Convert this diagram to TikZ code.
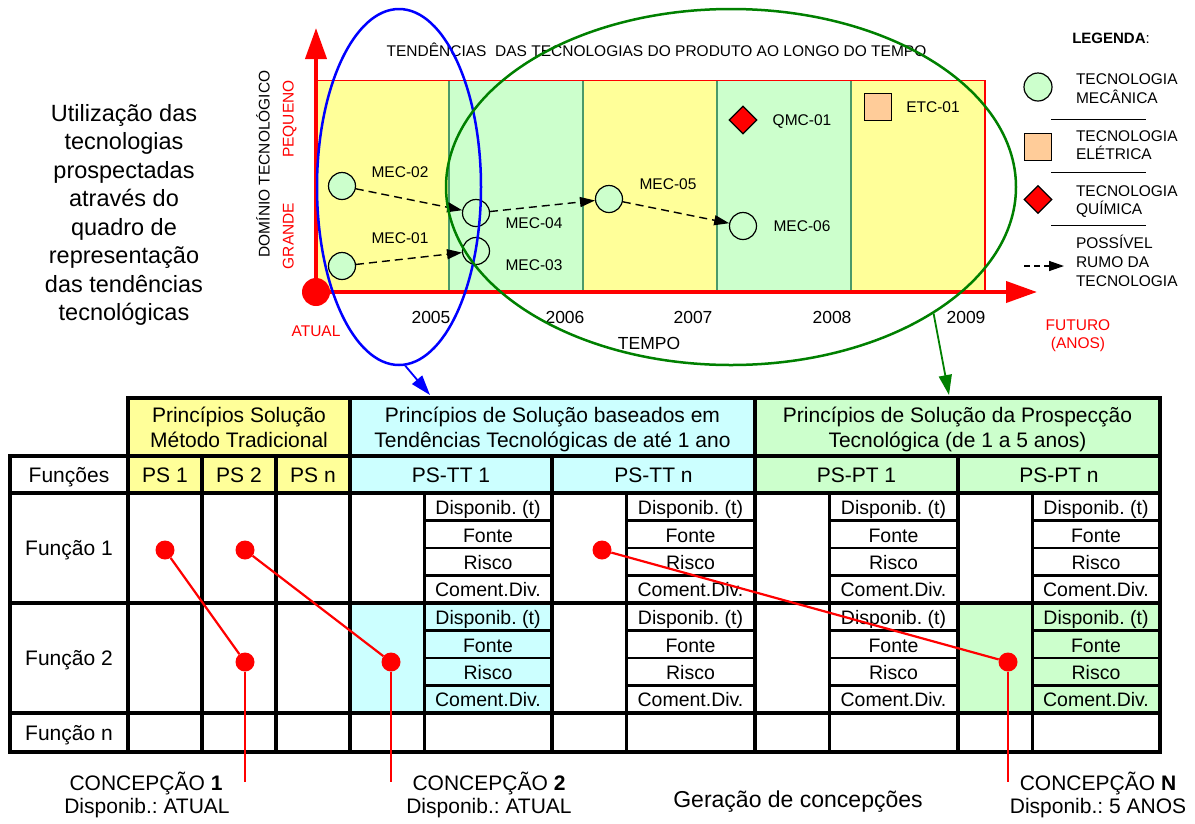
\documentclass[tikz,border=0pt]{standalone}
\usepackage{fontspec}
\setmainfont{Liberation Sans}
\usetikzlibrary{shapes.geometric, arrows.meta}
\frenchspacing

\definecolor{bandyellow}{HTML}{FFFF99}
\definecolor{bandgreen}{HTML}{CCFFCC}
\definecolor{bandcyan}{HTML}{CCFFFF}
\definecolor{elecorange}{HTML}{FFCC99}
\definecolor{divgreen}{HTML}{4A9A6A}
\definecolor{ellgreen}{HTML}{008000}

\begin{document}
\begin{tikzpicture}[x=1pt, y=-1pt,
  % text nodes are centred on the middle of the capitals
  txt/.style={inner sep=0, outer sep=0, text depth=0pt},
  small/.style={txt, font=\fontsize{15.5}{18}\selectfont, text height=11.1pt},
  yearlbl/.style={txt, font=\fontsize{17.5}{20}\selectfont, text height=12.5pt},
  redlbl/.style={small, text=red},
  cell/.style={txt, font=\fontsize{21}{24}\selectfont, text height=15pt},
  subcell/.style={txt, font=\fontsize{19.5}{22}\selectfont, text height=14pt},
  head/.style={txt, font=\fontsize{21}{24}\selectfont, text height=15pt},
  side/.style={txt, font=\fontsize{23.5}{28}\selectfont, text height=16.8pt},
  bottom/.style={txt, font=\fontsize{21}{24}\selectfont, text height=15pt},
  tech/.style={circle, draw, fill=bandgreen, minimum size=27, inner sep=0, line width=1.2},
  elec/.style={rectangle, draw, fill=elecorange, minimum size=27, inner sep=0, line width=1.5},
  chem/.style={diamond, draw, fill=red, minimum size=28, inner sep=0, line width=1.2},
  trend/.style={dash pattern=on 8pt off 5pt, line width=1.4, -{Triangle[length=15pt,width=10pt]}},
  axis/.style={red, line width=4, -{Triangle[length=31pt,width=21pt]}},
  dot/.style={circle, fill=red, minimum size=19, inner sep=0},
  redline/.style={red, line width=2.2},
  grid/.style={line width=3.5, line cap=rect},
  subgrid/.style={line width=2.5},
  sep/.style={line width=1.2}
]
\path[use as bounding box, fill=white] (0,0) rectangle (1195,823);

% ---------- side caption ----------
\foreach \t [count=\i] in {Utilização das, tecnologias, prospectadas, através do, quadro de, representação, das tendências, tecnológicas}
  \node[side] (side\i) at (124, 113+28.5*\i-28.5) {\t};

% ---------- trend chart: time bands ----------
\fill[bandyellow] (316,80.7) rectangle (449,292);
\fill[bandgreen]  (449,80.7) rectangle (583,292);
\fill[bandyellow] (583,80.7) rectangle (717,292);
\fill[bandgreen]  (717,80.7) rectangle (851,292);
\fill[bandyellow] (851,80.7) rectangle (985,292);
\foreach \x in {449,583,717,851}
  \draw[divgreen, line width=1.5] (\x,80.7) -- (\x,292);
\draw[red, line width=1.2] (316,80.7) rectangle (985,292);

% axes
\node[circle, fill=red, minimum size=28, inner sep=0] (origin) at (316,292) {};
\coordinate (ytip) at (316,28);
\coordinate (xtip) at (1037,292);
\draw[axis] (origin.center) -- (ytip);
\draw[axis] (origin.center) -- (xtip);

% axis texts
\node[small] (title) at (656.5,50.5) {TENDÊNCIAS\ \ DAS TECNOLOGIAS DO PRODUTO AO LONGO DO TEMPO};
\node[small, rotate=90] (dom) at (264,164) {DOMÍNIO TECNOLÓGICO};
\node[redlbl, rotate=90] (peq) at (288,119) {PEQUENO};
\node[redlbl, rotate=90] (gra) at (288,236) {GRANDE};
\node[redlbl] (atual) at (316,331) {ATUAL};
\node[yearlbl] (y05) at (431,317) {2005};
\node[yearlbl] (y06) at (565,317) {2006};
\node[yearlbl] (y07) at (693,317) {2007};
\node[yearlbl] (y08) at (832,317) {2008};
\node[yearlbl] (y09) at (966,317) {2009};
\node[yearlbl] (tempo) at (649,343) {TEMPO};
\node[redlbl] (fut1) at (1078,324.5) {FUTURO};
\node[redlbl] (fut2) at (1078,342.7) {(ANOS)};

% technologies
\node[tech] (m02) at (342,186) {};
\node[tech] (m01) at (342,266) {};
\node[tech] (m04) at (476,213) {};
\node[tech] (m03) at (476,251) {};
\node[tech] (m05) at (609,199) {};
\node[tech] (m06) at (743,226) {};
\node[chem] (q01) at (743,120) {};
\node[elec] (e01) at (878,107) {};

\node[small] (lm02) at (400,172) {MEC-02};
\node[small] (lm01) at (400,238) {MEC-01};
\node[small] (lm04) at (534,223) {MEC-04};
\node[small] (lm03) at (534,265) {MEC-03};
\node[small] (lm05) at (668,184) {MEC-05};
\node[small] (lm06) at (802,226) {MEC-06};
\node[small] (lq01) at (802,120) {QMC-01};
\node[small] (le01) at (933,107) {ETC-01};

\draw[trend] (m02) -- (m04);
\draw[trend] (m01) -- (m03);
\draw[trend] (m04) -- (m05);
\draw[trend] (m05) -- (m06);

% legend
\node[txt, font=\fontsize{15}{18}\selectfont, text height=10.7pt] (leg) at (1111,38.3) {\textbf{LEGENDA}:};
\node[tech, minimum size=28] (legc) at (1038,87) {};
\node[elec] (legs) at (1038,147) {};
\node[chem] (legd) at (1038,199.5) {};
\node[small, anchor=west] (lt1a) at (1076,79) {TECNOLOGIA};
\node[small, anchor=west] (lt1b) at (1076,97.7) {MECÂNICA};
\node[small, anchor=west] (lt2a) at (1076,135.7) {TECNOLOGIA};
\node[small, anchor=west] (lt2b) at (1076,154.3) {ELÉTRICA};
\node[small, anchor=west] (lt3a) at (1076,190.7) {TECNOLOGIA};
\node[small, anchor=west] (lt3b) at (1076,209.3) {QUÍMICA};
\node[small, anchor=west] (lt4a) at (1076,243.3) {POSSÍVEL};
\node[small, anchor=west] (lt4b) at (1076,262.3) {RUMO DA};
\node[small, anchor=west] (lt4c) at (1076,280.7) {TECNOLOGIA};
\foreach \y in {119.3,172.7,225.7}
  \draw[sep] (1051,\y) -- (1146,\y);
\coordinate (legA) at (1024,266);
\coordinate (legB) at (1064,266);
\draw[trend, dash pattern=on 6pt off 4pt] (legA) -- (legB);

% groupings of the time line
\node[draw=blue, line width=2.5, ellipse, minimum width=164, minimum height=356, inner sep=0] (blueEll) at (399,187) {};
\node[draw=ellgreen, line width=2.5, ellipse, minimum width=570, minimum height=356, inner sep=0] (greenEll) at (731,187) {};
\coordinate (blueTip) at (430,395);
\coordinate (greenTip) at (949,395);
\draw[blue, line width=1.8, -{Triangle[length=20pt,width=13pt]}] (blueEll.-88) -- (blueTip);
\draw[ellgreen, line width=1.8, -{Triangle[length=20pt,width=13pt]}] (greenEll.-32) -- (greenTip);

% ---------- morphological table ----------
\fill[bandyellow] (128,398) rectangle (350,493);
\fill[bandcyan]   (350,398) rectangle (755,493);
\fill[bandgreen]  (755,398) rectangle (1160,493);
\fill[bandcyan]   (350,603) rectangle (552,713);
\fill[bandgreen]  (958,603) rectangle (1160,713);

\foreach \xa/\xb in {424/552,626/755,829/958,1032/1160}
  \foreach \y in {520.5,548,575.5,630.5,658,685.5}
    \draw[subgrid] (\xa,\y) -- (\xb,\y);
\draw[grid] (128,398) -- (1160,398);
\foreach \y in {456,493,603,713,752}
  \draw[grid] (10,\y) -- (1160,\y);
\draw[grid] (10,456) -- (10,752);
\foreach \x in {128,350,755,1160}
  \draw[grid] (\x,398) -- (\x,752);
\foreach \x in {202,276,552,958}
  \draw[grid] (\x,456) -- (\x,752);
\foreach \x in {424,626,829,1032}
  \draw[grid, line width=3] (\x,493) -- (\x,752);

% header texts
\node[head] (h1a) at (239,415) {Princípios Solução};
\node[head] (h1b) at (239,440) {Método Tradicional};
\node[head] (h2a) at (552.5,415) {Princípios de Solução baseados em};
\node[head] (h2b) at (552.5,440) {Tendências Tecnológicas de até 1 ano};
\node[head] (h3a) at (957.5,415) {Princípios de Solução da Prospecção};
\node[head] (h3b) at (957.5,440) {Tecnológica (de 1 a 5 anos)};

\node[cell] (fun) at (69,474.5) {Funções};
\node[cell] (ps1) at (165,474.5) {PS 1};
\node[cell] (ps2) at (239,474.5) {PS 2};
\node[cell] (psn) at (313,474.5) {PS n};
\node[cell] (tt1) at (451,474.5) {PS-TT 1};
\node[cell] (ttn) at (653.5,474.5) {PS-TT n};
\node[cell] (pt1) at (856.5,474.5) {PS-PT 1};
\node[cell] (ptn) at (1059,474.5) {PS-PT n};

\node[cell] (f1) at (69,548) {Função 1};
\node[cell] (f2) at (69,658) {Função 2};
\node[cell] (fn) at (69,732.5) {Função n};

\foreach \cx [count=\c] in {488,690.5,893.5,1096} {
  \foreach \ry [count=\r] in {0,110} {
    \node[subcell] (s\c-\r-1) at (\cx,507+\ry) {Disponib. (t)};
    \node[subcell] (s\c-\r-2) at (\cx,535+\ry) {Fonte};
    \node[subcell] (s\c-\r-3) at (\cx,562+\ry) {Risco};
    \node[subcell] (s\c-\r-4) at (\cx,589.5+\ry) {Coment.Div.};
  }
}

% combinations of principles into concepts
\node[dot] (d1) at (165,550) {};
\node[dot] (d2) at (245,662) {};
\node[dot] (d3) at (245,550) {};
\node[dot] (d4) at (391,662) {};
\node[dot] (d5) at (602,550) {};
\node[dot] (d6) at (1008,662) {};
\coordinate (e1) at (245,782);
\coordinate (e2) at (391,782);
\coordinate (e3) at (1008,782);
\draw[redline] (d1) -- (d2);
\draw[redline] (d2) -- (e1);
\draw[redline] (d3) -- (d4);
\draw[redline] (d4) -- (e2);
\draw[redline] (d5) -- (d6);
\draw[redline] (d6) -- (e3);

\node[bottom] (c1a) at (146,782.5) {CONCEPÇÃO \textbf{1}};
\node[bottom] (c1b) at (147,806) {Disponib.: ATUAL};
\node[bottom] (c2a) at (489,782.5) {CONCEPÇÃO \textbf{2}};
\node[bottom] (c2b) at (489,806) {Disponib.: ATUAL};
\node[bottom] (cna) at (1098,782.5) {CONCEPÇÃO \textbf{N}};
\node[bottom] (cnb) at (1098,806) {Disponib.: 5 ANOS};
\node[txt, font=\fontsize{23}{26}\selectfont, text height=16.5pt] (ger) at (798,799) {Geração de concepções};
\end{tikzpicture}
\end{document}
